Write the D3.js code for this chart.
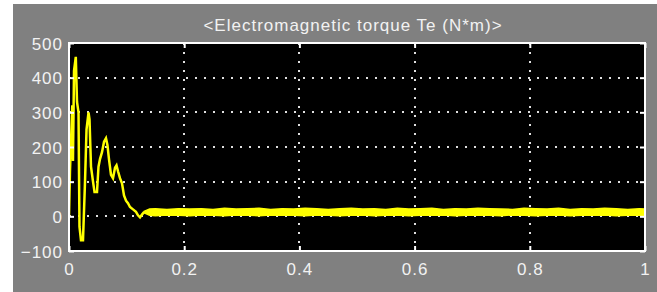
<!DOCTYPE html>
<html>
<head>
<meta charset="utf-8" />
<title>Electromagnetic torque Te</title>
<script src="https://cdn.jsdelivr.net/npm/d3@7/dist/d3.min.js"></script>
<style>
	body { margin: 0; background: #fff; }
	svg { display: block; }
	text { font-family: "Liberation Sans", Arial, sans-serif; font-size: 17px; letter-spacing: 1px; fill: #f2f2f2; }
</style>
</head>
<body>
<svg id="chart"></svg>
<script>
// transient part of the scope trace (time in s, Te in N*m)
var tTime = [0, 0.0017, 0.0057, 0.0069, 0.0087, 0.0118, 0.0139, 0.0165, 0.0182, 0.0208,
             0.0243, 0.0278, 0.0304, 0.0339, 0.0356, 0.0382, 0.0417, 0.0443, 0.0486, 0.0512,
             0.0538, 0.0573, 0.0608, 0.0642, 0.0668, 0.0694, 0.0729, 0.0764, 0.0799, 0.0825,
             0.0851, 0.0885, 0.0920, 0.0955, 0.0990, 0.1024, 0.1059, 0.1111, 0.1163, 0.1198,
             0.1233, 0.1267, 0.1302];
var tTe   = [0, 130, 320, 160, 420, 460, 330, 300, -30, -69,
             -69, 100, 250, 300, 280, 143, 100, 70, 70, 143,
             165, 185, 215, 225, 205, 165, 120, 110, 140, 147,
             130, 110, 95, 60, 45, 38, 27, 20, 13, 3,
             -3, 5, 12];

// steady state ripple band (min / max of the trace)
var bandTime = [0.1302, 0.14, 0.15, 0.17, 0.19, 0.21, 0.23, 0.25, 0.27, 0.29, 0.31,
                0.33, 0.35, 0.37, 0.39, 0.41, 0.43, 0.45, 0.47, 0.49, 0.51,
                0.53, 0.55, 0.57, 0.59, 0.61, 0.63, 0.65, 0.67, 0.69, 0.71,
                0.73, 0.75, 0.77, 0.79, 0.81, 0.83, 0.85, 0.87, 0.89, 0.91,
                0.93, 0.95, 0.97, 0.99, 1.0];
var bandHi   = [14, 21, 22, 20, 22, 21, 22, 20, 23, 21, 22,
                23, 20, 22, 21, 23, 22, 20, 22, 23, 21,
                22, 20, 23, 21, 22, 23, 20, 22, 21, 23,
                22, 21, 20, 23, 22, 21, 23, 20, 22, 21,
                23, 22, 20, 22, 21];
var bandLo   = [10, 3, 2, 4, 3, 2, 4, 3, 2, 4, 3,
                2, 4, 3, 3, 2, 4, 3, 2, 3, 4,
                2, 3, 4, 2, 3, 3, 4, 2, 3, 4,
                3, 2, 4, 3, 2, 3, 4, 2, 3, 3,
                4, 2, 3, 4, 3];

var xTicks = [0, 0.2, 0.4, 0.6, 0.8, 1];
var yTicks = [-100, 0, 100, 200, 300, 400, 500];
var title  = "<Electromagnetic torque Te (N*m)>";

(function draw() {
	var W = 657, H = 292;
	var plot = { left: 69, right: 645, top: 43, bottom: 251 };

	var svg = d3.select("#chart").attr("width", W).attr("height", H);

	// window frame: white strip left/top, grey figure
	svg.append("rect").attr("x", 0).attr("y", 0).attr("width", W).attr("height", H).attr("fill", "#fff");
	svg.append("rect").attr("x", 13).attr("y", 4).attr("width", W - 13).attr("height", H - 4).attr("fill", "#808080");

	var x = d3.scaleLinear().domain([0, 1]).range([plot.left, plot.right]);
	var y = d3.scaleLinear().domain([-100, 500]).range([plot.bottom, plot.top]);

	svg.append("rect")
		.attr("x", plot.left).attr("y", plot.top)
		.attr("width", plot.right - plot.left).attr("height", plot.bottom - plot.top)
		.attr("fill", "#000");

	// dotted grid
	var grid = svg.append("g").attr("stroke", "#e0e0e0").attr("stroke-width", 2).attr("stroke-dasharray", "2,7");
	grid.selectAll("line.gx").data(xTicks.slice(1, -1)).enter().append("line")
		.attr("x1", function(d) { return Math.round(x(d)); })
		.attr("x2", function(d) { return Math.round(x(d)); })
		.attr("y1", plot.top).attr("y2", plot.bottom);
	grid.selectAll("line.gy").data(yTicks.slice(1, -1)).enter().append("line")
		.attr("y1", function(d) { return Math.round(y(d)); })
		.attr("y2", function(d) { return Math.round(y(d)); })
		.attr("x1", plot.left).attr("x2", plot.right);

	svg.append("clipPath").attr("id", "clip").append("rect")
		.attr("x", plot.left).attr("y", plot.top)
		.attr("width", plot.right - plot.left).attr("height", plot.bottom - plot.top);

	var traces = svg.append("g").attr("clip-path", "url(#clip)");

	var band = d3.area()
		.x(function(d, i) { return x(bandTime[i]); })
		.y0(function(d, i) { return y(bandLo[i]); })
		.y1(function(d, i) { return y(bandHi[i]); });
	traces.append("path").datum(bandTime)
		.attr("d", band)
		.attr("fill", "#ffff00").attr("stroke", "#ffff00").attr("stroke-width", 1.5);

	var line = d3.line()
		.x(function(d, i) { return x(tTime[i]); })
		.y(function(d, i) { return y(tTe[i]); });
	traces.append("path").datum(tTime)
		.attr("d", line)
		.attr("fill", "none").attr("stroke", "#ffff00").attr("stroke-width", 2.5)
		.attr("stroke-linejoin", "miter");

	// axes (ticks point inwards)
	var fmt = d3.format("");
	var xb = svg.append("g").attr("transform", "translate(0," + plot.bottom + ")")
		.call(d3.axisBottom(x).tickValues(xTicks).tickFormat(fmt).tickSizeInner(-5).tickSizeOuter(0));
	xb.selectAll("text").attr("y", 24).attr("dy", null);
	svg.append("g").attr("transform", "translate(0," + plot.top + ")")
		.call(d3.axisTop(x).tickValues(xTicks).tickFormat("").tickSizeInner(-5).tickSizeOuter(0));
	var yl = svg.append("g").attr("transform", "translate(" + plot.left + ",0)")
		.call(d3.axisLeft(y).tickValues(yTicks).tickFormat(fmt).tickSizeInner(-5).tickSizeOuter(0));
	yl.selectAll("text").attr("x", -6).attr("dy", 6);
	svg.append("g").attr("transform", "translate(" + plot.right + ",0)")
		.call(d3.axisRight(y).tickValues(yTicks).tickFormat("").tickSizeInner(-5).tickSizeOuter(0));

	svg.selectAll(".domain").remove();
	svg.selectAll(".tick line").attr("stroke", "#fff").attr("stroke-width", 2);
	svg.selectAll(".tick text").attr("fill", "#f2f2f2")
		.style("font-family", "'Liberation Sans', Arial, sans-serif").style("font-size", "17px");

	// box
	svg.append("rect")
		.attr("x", plot.left).attr("y", plot.top)
		.attr("width", plot.right - plot.left).attr("height", plot.bottom - plot.top)
		.attr("fill", "none").attr("stroke", "#fff").attr("stroke-width", 2);

	svg.append("text")
		.attr("x", (plot.left + plot.right) / 2 - 4).attr("y", 31)
		.attr("text-anchor", "middle")
		.text(title);
})();
</script>
</body>
</html>
